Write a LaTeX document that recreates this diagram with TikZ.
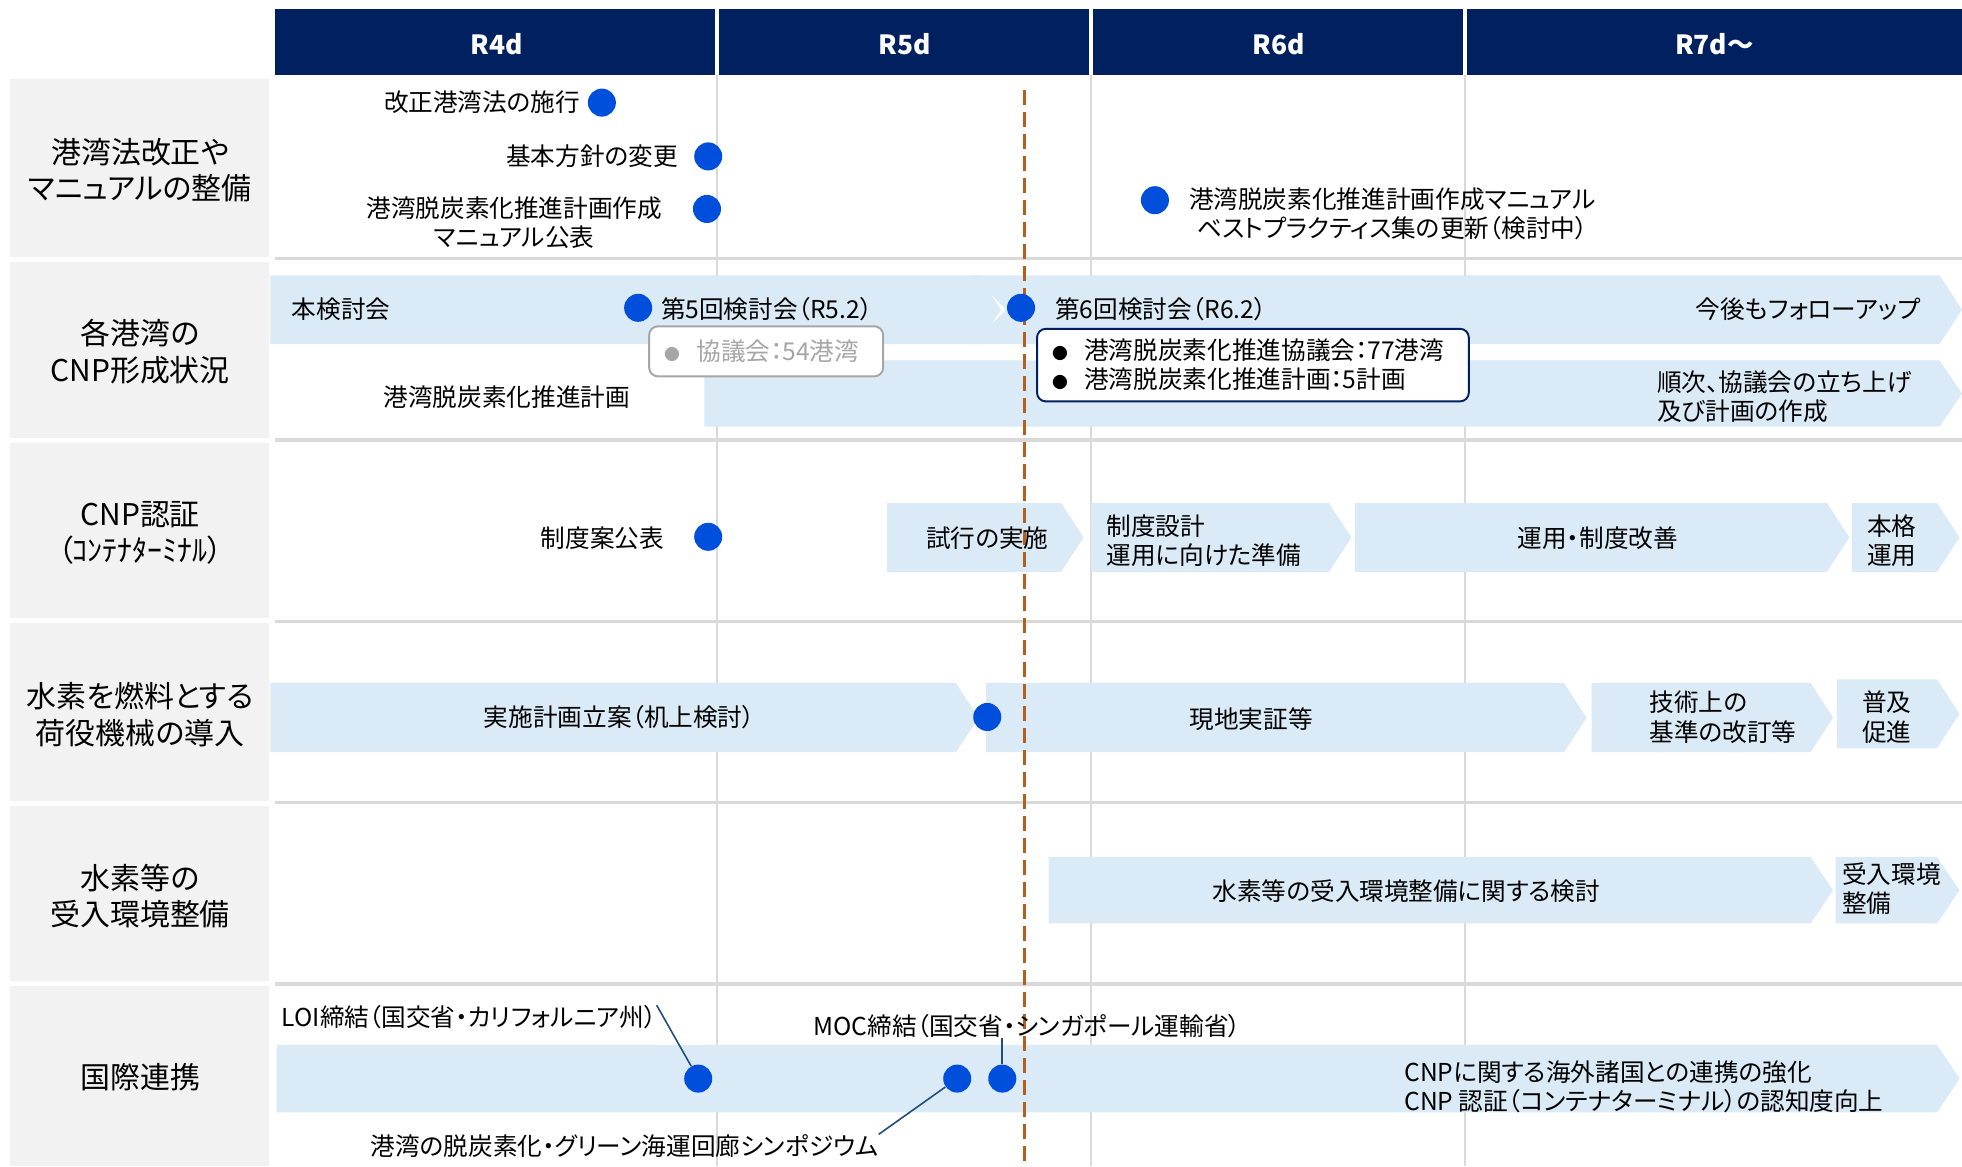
\documentclass[tikz,border=0pt]{standalone}
\usepackage{fontspec}
\setmainfont[RawFeature=+palt]{Noto Sans CJK JP}
\usepackage{tikz}

\definecolor{navy}{HTML}{002060}
\definecolor{barblue}{HTML}{DAEBF7}
\definecolor{dotblue}{HTML}{004FDC}
\definecolor{labelgray}{HTML}{F2F2F2}
\definecolor{gridgray}{HTML}{D9D9D9}
\definecolor{nowline}{HTML}{B35F1E}
\definecolor{leadblue}{HTML}{1F4E79}
\definecolor{boxgray}{HTML}{A6A6A6}

% chevron bar: x start, x tip, y top, y bottom
\newcommand{\chevbar}[4]{%
  \fill[barblue] (#1,#3) -- ({#2-18},#3) -- (#2,{(#3+#4)/2}) -- ({#2-18},#4) -- (#1,#4) -- cycle;}

\begin{document}
\begin{tikzpicture}[x=0.025cm, y=-0.025cm,
    rowlabel/.style={font=\fontsize{17pt}{20.6pt}\selectfont, align=center, inner sep=0pt},
    itemtxt/.style={font=\fontsize{14pt}{16.8pt}\selectfont, inner sep=0pt},
    mile/.style={circle, fill=dotblue, inner sep=0pt, minimum size=0.56cm},
    yearhead/.style={font=\fontsize{15pt}{18pt}\selectfont\bfseries, text=white},
    leader/.style={leadblue, line width=0.9pt},
    notebox/.style={rounded corners=5pt, fill=white, line width=1.1pt, inner xsep=0.3cm, inner ysep=0pt,
      font=\fontsize{14pt}{16.5pt}\selectfont, align=left, anchor=north west}]
    \useasboundingbox (0,0) rectangle (1568,932);
    \fill[white] (0,0) rectangle (1568,932);

    % Row label boxes
    \fill[labelgray] (8,63) rectangle (215,205);
    \fill[labelgray] (8,209) rectangle (215,350);
    \fill[labelgray] (8,354) rectangle (215,494);
    \fill[labelgray] (8,498) rectangle (215,640);
    \fill[labelgray] (8,644) rectangle (215,784);
    \fill[labelgray] (8,788) rectangle (215,932);

    % Grid
    \foreach \gx in {573,872,1171}
        \draw[gridgray, line width=1.3pt] (\gx,60) -- (\gx,932);
    \foreach \gy in {206.5,351.5,496.5,641.5,786.5}
        \draw[gridgray, line width=2pt] (220,\gy) -- (1568,\gy);

    % Year header
    \fill[navy] (220,7) rectangle (1568,60);
    \foreach \gx in {573,872,1171}
        \draw[white, line width=2pt] (\gx,7) -- (\gx,60);
    \node[yearhead] (r4) at (397,35) {R4d};
    \node[yearhead] (r5) at (723,35) {R5d};
    \node[yearhead] (r6) at (1022,35) {R6d};
    \node[yearhead] (r7) at (1370,35) {R7d～};

    % Row labels
    \node[rowlabel] (lab1) at (112,136) {港湾法改正や\\マニュアルの整備};
    \node[rowlabel] (lab2) at (112,281) {各港湾の\\CNP形成状況};
    \node[rowlabel] (lab3) at (112,426) {CNP認証\\（ｺﾝﾃﾅﾀｰﾐﾅﾙ）};
    \node[rowlabel] (lab4) at (112,571) {水素を燃料とする\\荷役機械の導入};
    \node[rowlabel] (lab5) at (112,716) {水素等の\\受入環境整備};
    \node[rowlabel] (lab6) at (112,861) {国際連携};

    % Bars
    \chevbar{216}{800}{220}{275}
    \fill[barblue] (777,220) -- (1550,220) -- (1568,247.5) -- (1550,275) -- (777,275) -- (804,247.5) -- cycle;
    \chevbar{563}{1568}{288}{341}
    \chevbar{709}{866}{402}{457}
    \chevbar{872}{1080}{402}{457}
    \chevbar{1083}{1478}{402}{457}
    \chevbar{1480}{1566}{402}{457}
    \chevbar{216}{782}{546}{601}
    \chevbar{788}{1268}{546}{601}
    \chevbar{1272}{1465}{546}{601}
    \chevbar{1468}{1566}{543}{598}
    \chevbar{838}{1465}{685}{738}
    \chevbar{1467}{1566}{685}{738}
    \chevbar{221}{1566}{835}{889}

    % Now line
    \draw[nowline, line width=1.8pt, dash pattern=on 8.5pt off 4pt] (819,72) -- (819,932);

    % Row 1
    \node[mile] (law) at (481,82) {};
    \node[itemtxt, anchor=east] (lawTxt) at (464,82) {改正港湾法の施行};
    \node[mile] (policy) at (566,125) {};
    \node[itemtxt, anchor=east] (policyTxt) at (542,125) {基本方針の変更};
    \node[mile] (manual) at (565,167) {};
    \node[itemtxt, align=center] (manualTxt) at (411,178) {港湾脱炭素化推進計画作成\\マニュアル公表};
    \node[mile] (update) at (923,160) {};
    \node[itemtxt, align=center, anchor=west] (updateTxt) at (950,171) {港湾脱炭素化推進計画作成マニュアル\\ベストプラクティス集の更新（検討中）};

    % Row 2
    \node[itemtxt, anchor=west] (studyTxt) at (233,247) {本検討会};
    \node[mile] (mtg5) at (510,246) {};
    \node[itemtxt, anchor=west] (mtg5Txt) at (528,247) {第5回検討会（R5.2）};
    \node[mile] (mtg6) at (816,246) {};
    \node[itemtxt, anchor=west] (mtg6Txt) at (843,247) {第6回検討会（R6.2）};
    \node[itemtxt, anchor=east] (followTxt) at (1535,247) {今後もフォローアップ};
    \node[itemtxt] (planTxt) at (405,317) {港湾脱炭素化推進計画};
    \node[itemtxt, anchor=west, align=left] (nextTxt) at (1324,317) {順次、協議会の立ち上げ\\及び計画の作成};
    \node[notebox, draw=boxgray, text=boxgray, minimum height=1.0cm, text width=4.075cm] (note5) at (518,260)
        {{\fontsize{9pt}{9pt}\selectfont ●}\ \ 協議会：54港湾};
    \node[notebox, draw=navy, minimum height=1.45cm, text width=8.025cm] (note6) at (828,262)
        {{\fontsize{9pt}{9pt}\selectfont ●}\ \ 港湾脱炭素化推進協議会：77港湾\\{\fontsize{9pt}{9pt}\selectfont ●}\ \ 港湾脱炭素化推進計画：5計画};

    % Row 3
    \node[mile] (draft) at (566,429) {};
    \node[itemtxt, anchor=east] (draftTxt) at (531,430) {制度案公表};
    \node[itemtxt] (trialTxt) at (789,430) {試行の実施};
    \node[itemtxt, anchor=west, align=left] (designTxt) at (884,432) {制度設計\\運用に向けた準備};
    \node[itemtxt] (improveTxt) at (1277,430) {運用・制度改善};
    \node[itemtxt, anchor=west, align=left] (fullTxt) at (1492,432) {本格\\運用};

    % Row 4
    \node[itemtxt] (deskTxt) at (495,573) {実施計画立案（机上検討）};
    \node[mile] (field) at (789,573) {};
    \node[itemtxt] (fieldTxt) at (1000,575) {現地実証等};
    \node[itemtxt, anchor=west, align=left] (stdTxt) at (1318,573) {技術上の\\基準の改訂等};
    \node[itemtxt, anchor=west, align=left] (spreadTxt) at (1488,573) {普及\\促進};

    % Row 5
    \node[itemtxt] (h2Txt) at (1124,712) {水素等の受入環境整備に関する検討};
    \node[itemtxt, anchor=west, align=left] (recvTxt) at (1472,710) {受入環境\\整備};

    % Row 6
    \node[mile] (loi) at (558,862) {};
    \node[mile] (sym) at (765,862) {};
    \node[mile] (moc) at (801,862) {};
    \node[itemtxt, anchor=west] (loiTxt) at (225,813) {LOI締結（国交省・カリフォルニア州）};
    \node[itemtxt, anchor=west] (mocTxt) at (650,820) {MOC締結（国交省・シンガポール運輸省）};
    \node[itemtxt, anchor=west] (symTxt) at (296,916) {港湾の脱炭素化・グリーン海運回廊シンポジウム};
    \node[itemtxt, anchor=west, align=left] (intlTxt) at (1122,868.5) {CNPに関する海外諸国との連携の強化\\CNP 認証（コンテナターミナル）の認知度向上};
    \draw[leader] (loiTxt.north east) -- (loi);
    \draw[leader] (mocTxt.south -| moc) -- (moc);
    \draw[leader] (symTxt.north east) -- (sym);
\end{tikzpicture}
\end{document}
